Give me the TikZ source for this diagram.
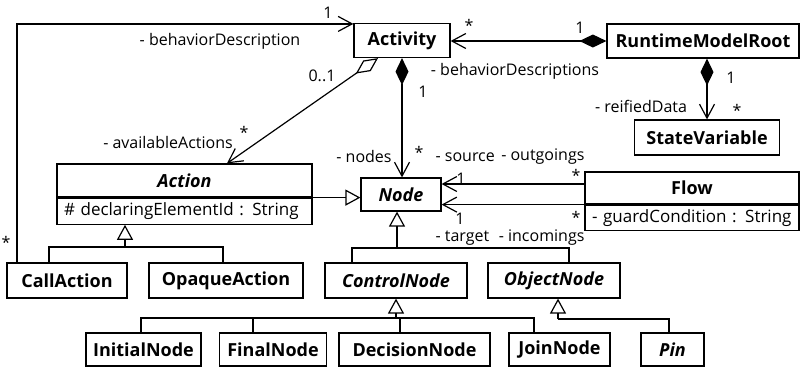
\documentclass[tikz,border=0pt]{standalone}
\usepackage{fontspec}
\setmainfont{Open Sans}
\usetikzlibrary{arrows.meta,positioning}

\begin{document}
\begin{tikzpicture}[x=1pt,y=-1pt,line width=1.2pt,
  every node/.style={inner sep=0pt},
  cls/.style={draw,rectangle,minimum height=34pt,font=\fontsize{18}{21}\selectfont\bfseries},
  abscls/.style={cls,font=\fontsize{18}{21}\selectfont\bfseries\itshape},
  attr/.style={draw,rectangle,minimum height=25pt,inner xsep=7pt,align=left,font=\fontsize{17}{19}\selectfont},
  lbl/.style={font=\fontsize{16}{18}\selectfont},
  nav/.style={-{Straight Barb[length=14pt,width=15pt]}},
  comp/.style={{Diamond[length=27pt,width=13pt]}-{Straight Barb[length=14pt,width=15pt]}},
  aggr/.style={{Diamond[open,length=27pt,width=13pt]}-{Straight Barb[length=14pt,width=15pt]}},
  gen/.style={-{Triangle[open,length=15pt,width=16pt]}}]
\useasboundingbox (0,0) rectangle (801,367);

\node[cls,minimum width=96pt] (Activity) at (402,40.5) {Activity};
\node[cls,minimum width=192pt] (Root) at (703,41) {RuntimeModelRoot};
\node[cls,minimum width=145pt,minimum height=35pt] (StateVariable) at (707,137.5) {StateVariable};
\node[abscls,minimum width=255pt,minimum height=33pt] (Action) at (184.5,180.5) {Action};
\node[attr,text width=241pt,minimum height=26pt,below=0pt of Action] (ActionAttr) {\mbox{\# declaringElementId : String}};
\node[abscls,minimum width=80pt,minimum height=33pt] (Node) at (401,194.5) {Node};
\node[cls,minimum width=214pt,minimum height=32pt] (Flow) at (692,188) {Flow};
\node[attr,text width=200pt,below=0pt of Flow] (FlowAttr) {\mbox{- guardCondition : String}};

\node[cls,minimum width=120pt,minimum height=35pt] (CallAction) at (67,280.5) {CallAction};
\node[cls,minimum width=154pt,minimum height=35pt] (OpaqueAction) at (226,280.5) {OpaqueAction};
\node[abscls,minimum width=142pt,minimum height=35pt] (ControlNode) at (396,280.5) {ControlNode};
\node[abscls,minimum width=132pt,minimum height=35pt] (ObjectNode) at (554,280.5) {ObjectNode};

\node[cls,minimum width=115pt,minimum height=33pt] (InitialNode) at (143.5,349.5) {InitialNode};
\node[cls,minimum width=107pt,minimum height=33pt] (FinalNode) at (273,349.5) {FinalNode};
\node[cls,minimum width=151pt,minimum height=33pt] (DecisionNode) at (414.5,349.5) {DecisionNode};
\node[cls,minimum width=101pt,minimum height=33pt] (JoinNode) at (559.5,349.5) {JoinNode};
\node[abscls,minimum width=63pt,minimum height=33pt] (Pin) at (672.5,349.5) {Pin};

\draw[nav] ([xshift=-50pt]CallAction.north) |- ([yshift=-1pt]Activity.north west);
\draw[aggr] ([xshift=-24pt]Activity.south) -- ([xshift=42.5pt]Action.north);
\draw[comp] (Activity.south) -- (Activity.south |- Node.north);
\draw[comp] (Root.west) -- (Root.west -| Activity.east);
\draw[comp] (StateVariable.north |- Root.south) -- (StateVariable.north);
\draw[nav] ([yshift=4pt]Flow.west) -- ([yshift=4pt]Flow.west -| Node.east);
\draw[nav] (Flow.south west) -- (Flow.south west -| Node.east);
\draw[gen] (Action.south east) -- (Action.south east -| Node.west);

\coordinate (actHub) at (125,247);
\draw[gen] (actHub) -- (actHub |- ActionAttr.south);
\draw ([xshift=-18pt]CallAction.north) |- (actHub) -| ([xshift=-3pt]OpaqueAction.north);
\coordinate (nodeHub) at (397,248);
\draw[gen] (nodeHub) -- (nodeHub |- Node.south);
\draw ([xshift=-44pt]ControlNode.north) |- (nodeHub) -| ([xshift=15pt]ObjectNode.north);
\coordinate (ctrlHub) at (396,318);
\draw[gen] (ctrlHub) -- (ControlNode.south);
\foreach \sub/\dx in {InitialNode/-2.5,FinalNode/-20,DecisionNode/-14.5,JoinNode/-25.5}
  \draw ([xshift=\dx pt]\sub.north) |- (ctrlHub);
\coordinate (objHub) at (558,319);
\draw[gen] (objHub) -- (objHub |- ObjectNode.south);
\draw ([xshift=-3.5pt]Pin.north) |- (objHub);

\node[lbl] (mBehOne) at (328,13) {1};
\node[lbl] (rBeh) at (220,41) {- behaviorDescription};
\node[lbl] (mBehMany) at (6,242) {*};
\node[lbl] (mActMany) at (469,25) {*};
\node[lbl] (mRootOne) at (580,28) {1};
\node[lbl] (mAvailOne) at (322,76) {0..1};
\node[lbl] (rBehs) at (515,71) {- behaviorDescriptions};
\node[lbl] (mNodesOne) at (423,92) {1};
\node[lbl] (mDataOne) at (731,78) {1};
\node[lbl] (rData) at (641,106) {- reifiedData};
\node[lbl] (mDataMany) at (737,110) {*};
\node[lbl] (rAvail) at (168,142) {- availableActions};
\node[lbl] (mAvailMany) at (244,132) {*};
\node[lbl] (rNodes) at (364,156) {- nodes};
\node[lbl] (mNodesMany) at (419,152) {*};
\node[lbl,anchor=west] (rSource) at (435,157) {- source};
\node[lbl,anchor=east] (rOut) at (585,157) {- outgoings};
\node[lbl] (mSourceOne) at (461,179) {1};
\node[lbl] (mOutMany) at (576,175) {*};
\node[lbl] (mTargetOne) at (460,219) {1};
\node[lbl] (mInMany) at (576,217) {*};
\node[lbl,anchor=west] (rTarget) at (435,238) {- target};
\node[lbl,anchor=east] (rIn) at (585,238) {- incomings};
\end{tikzpicture}
\end{document}
